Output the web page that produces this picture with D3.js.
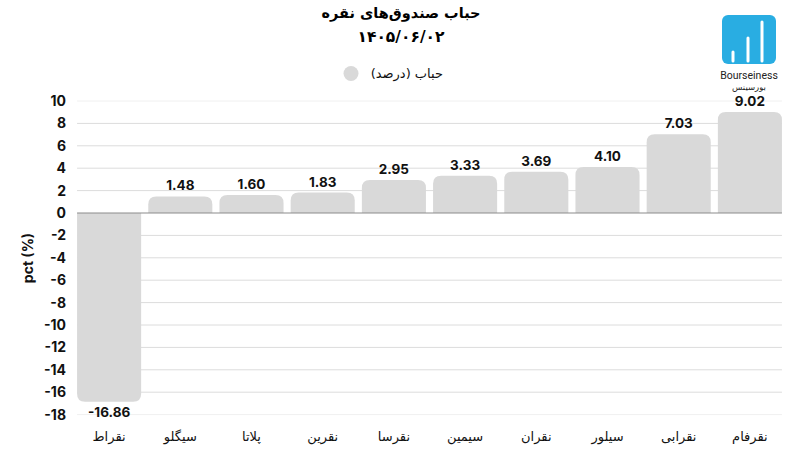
<!DOCTYPE html>
<html><head><meta charset="utf-8">
<script src="https://cdn.jsdelivr.net/npm/d3@7"></script>
<style>body{margin:0;background:#fff}svg{display:block}</style>
</head><body>
<svg id="c" width="800" height="450"></svg>
<script>
const categories = ["نقراط","سیگلو","پلاتا","نقرین","نقرسا","سیمین","نقران","سیلور","نقرابی","نقرفام"];
const bubble = [-16.86, 1.48, 1.60, 1.83, 2.95, 3.33, 3.69, 4.10, 7.03, 9.02];
const yTicks = [10,8,6,4,2,0,-2,-4,-6,-8,-10,-12,-14,-16,-18];
const titleText = "حباب صندوق‌های نقره";
const subtitleText = "۱۴۰۵/۰۶/۰۲";
const seriesName = "حباب (درصد)";
const yTitle = "pct (%)";

const svg = d3.select("#c");
const x = d3.scaleBand().domain(categories).range([73.5, 785.5]).paddingInner(0.1).paddingOuter(0.05);
const y = d3.scaleLinear().domain([-18, 10]).range([414.6, 101]);
const bw = x.bandwidth();
const gx0 = x(categories[0]), gx1 = x(categories[categories.length-1]) + bw;
const latin = "Inter, Roboto, 'DejaVu Sans', sans-serif";
const fa = "'DejaVu Sans', sans-serif";

// grid
svg.append("g").selectAll("line").data(yTicks.filter(d=>d!==0)).join("line")
  .attr("x1", gx0).attr("x2", gx1).attr("y1", d=>y(d)).attr("y2", d=>y(d))
  .attr("stroke", d=> (d===10||d===-18) ? "#f0f0f0" : "#dcdcdc").attr("stroke-width", 1);

// y tick labels
svg.append("g").selectAll("text").data(yTicks).join("text")
  .attr("x", 66).attr("y", d=>y(d)).attr("dy","0.36em").attr("text-anchor","end")
  .attr("font-family", latin).attr("font-weight", 700).attr("font-size", 14).attr("fill","#111")
  .text(d=>d);

// y title
svg.append("text").attr("transform","translate(33,258) rotate(-90)").attr("text-anchor","middle")
  .attr("font-family", latin).attr("font-weight",700).attr("font-size",14).attr("fill","#111").text(yTitle);

// bars
const r = 8;
function barPath(d, i){
  const x0 = x(categories[i]), x1 = x0 + bw;
  const y0 = y(0), yv = y(d);
  if (d >= 0){
    const rr = Math.min(r, y0 - yv);
    return `M${x0},${y0}V${yv+rr}Q${x0},${yv} ${x0+rr},${yv}H${x1-rr}Q${x1},${yv} ${x1},${yv+rr}V${y0}Z`;
  } else {
    const rr = Math.min(r, yv - y0);
    return `M${x0},${y0}V${yv-rr}Q${x0},${yv} ${x0+rr},${yv}H${x1-rr}Q${x1},${yv} ${x1},${yv-rr}V${y0}Z`;
  }
}
svg.append("g").selectAll("path").data(bubble).join("path")
  .attr("d", (d,i)=>barPath(d,i)).attr("fill","#d9d9d9");

// zero line
svg.append("line").attr("x1", gx0).attr("x2", gx1).attr("y1", y(0)).attr("y2", y(0))
  .attr("stroke","#8c8c8c").attr("stroke-width",1.2);

// value labels
svg.append("g").selectAll("text").data(bubble).join("text")
  .attr("x", (d,i)=>x(categories[i]) + bw/2)
  .attr("y", d=> d>=0 ? y(d) - 6 : y(d) + 15)
  .attr("text-anchor","middle").attr("font-family", latin).attr("font-weight",700)
  .attr("font-size",13.5).attr("fill","#111").text(d=>d.toFixed(2));

// x labels
svg.append("g").selectAll("text").data(categories).join("text")
  .attr("x", d=>x(d)+bw/2).attr("y", 441).attr("text-anchor","middle")
  .attr("font-family", fa).attr("font-size",13).attr("fill","#111").attr("direction","rtl").text(d=>d);

// title
svg.append("text").attr("x",401).attr("y",18).attr("text-anchor","middle").attr("direction","rtl")
  .attr("font-family", fa).attr("font-weight",700).attr("font-size",14.5).attr("fill","#000").text(titleText);
svg.append("text").attr("x",401).attr("y",42).attr("text-anchor","middle")
  .attr("font-family", fa).attr("font-weight",700).attr("font-size",15.5).attr("fill","#000").text(subtitleText);

// legend
svg.append("circle").attr("cx",351).attr("cy",73.5).attr("r",7.5).attr("fill","#d9d9d9");
svg.append("text").attr("x",443).attr("y",78).attr("text-anchor","start").attr("direction","rtl")
  .attr("font-family", fa).attr("font-size",13).attr("fill","#111").text(seriesName);

// logo
const lg = svg.append("g");
lg.append("rect").attr("x",722).attr("y",15).attr("width",54).attr("height",49).attr("rx",6).attr("fill","#29ade2");
[[733,52],[748,38],[762,22]].forEach(([lx,ty])=>{
  lg.append("line").attr("x1",lx).attr("x2",lx).attr("y1",ty).attr("y2",61)
    .attr("stroke","#fff").attr("stroke-width",3).attr("stroke-linecap","round");
});
lg.append("text").attr("x",749).attr("y",79).attr("text-anchor","middle")
  .attr("font-family","Roboto, sans-serif").attr("font-size",10.5).attr("fill","#222").text("Bourseiness");
lg.append("text").attr("x",749).attr("y",90).attr("text-anchor","middle").attr("direction","rtl")
  .attr("font-family", fa).attr("font-size",8.5).attr("fill","#222").text("بورسینس");
</script>
</body></html>
